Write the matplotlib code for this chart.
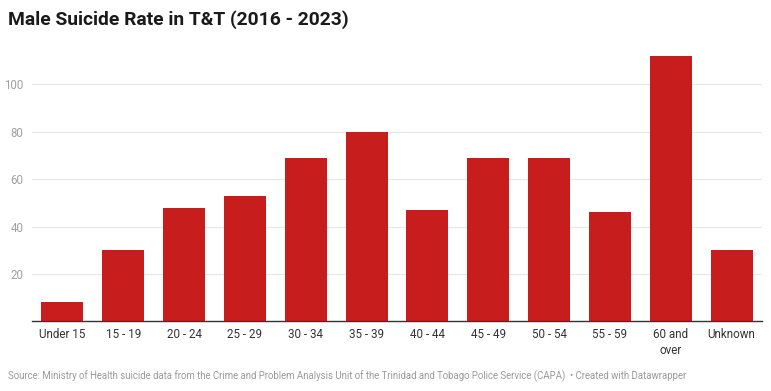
import numpy as np
import matplotlib.pyplot as plt

plt.rcParams['font.family'] = ['Roboto', 'DejaVu Sans']

age_groups = ['Under 15', '15 - 19', '20 - 24', '25 - 29', '30 - 34', '35 - 39',
              '40 - 44', '45 - 49', '50 - 54', '55 - 59', '60 and\nover', 'Unknown']
suicides = [8, 30, 48, 53, 69, 80, 47, 69, 69, 46, 112, 30]
y_ticks = [20, 40, 60, 80, 100]

W, H = 771, 391
fig = plt.figure(figsize=(W / 100, H / 100), dpi=100)
ax = fig.add_axes([32 / W, (H - 321.4) / H, 730 / W, 265.4 / H])

x = np.arange(len(age_groups))
ax.bar(x, suicides, width=0.69, color='#c71e1d', zorder=2)

ax.set_xlim(-0.5, len(age_groups) - 0.5)
ax.set_ylim(0, 112)
ax.set_yticks(y_ticks)
ax.set_yticklabels([str(v) for v in y_ticks], color='#a0a0a0', fontsize=8.3)
ax.grid(axis='y', color='#e8e8e8', linewidth=0.9, zorder=0)
ax.set_xticks(x)
ax.set_xticklabels(age_groups, fontsize=8.4, color='#333333', linespacing=1.3, va='top')
ax.tick_params(axis='both', length=0)
ax.tick_params(axis='x', pad=5)
ax.tick_params(axis='y', pad=6)
for s in ['top', 'right', 'left']:
    ax.spines[s].set_visible(False)
ax.spines['bottom'].set_color('#333333')
ax.spines['bottom'].set_linewidth(1.0)
ax.spines['bottom'].set_zorder(3)

fig.text(8 / W, 1 - 20 / H, 'Male Suicide Rate in T&T (2016 - 2023)', fontsize=13.9,
         fontweight='bold', color='#1a1a1a', va='center', ha='left')
fig.text(8 / W, 1 - 376 / H,
         'Source: Ministry of Health suicide data from the Crime and Problem Analysis Unit of the '
         'Trinidad and Tobago Police Service (CAPA)  \u2022 Created with Datawrapper',
         fontsize=6.95, color='#9a9a9a', va='center', ha='left')

fig.savefig('out.png', dpi=100)
